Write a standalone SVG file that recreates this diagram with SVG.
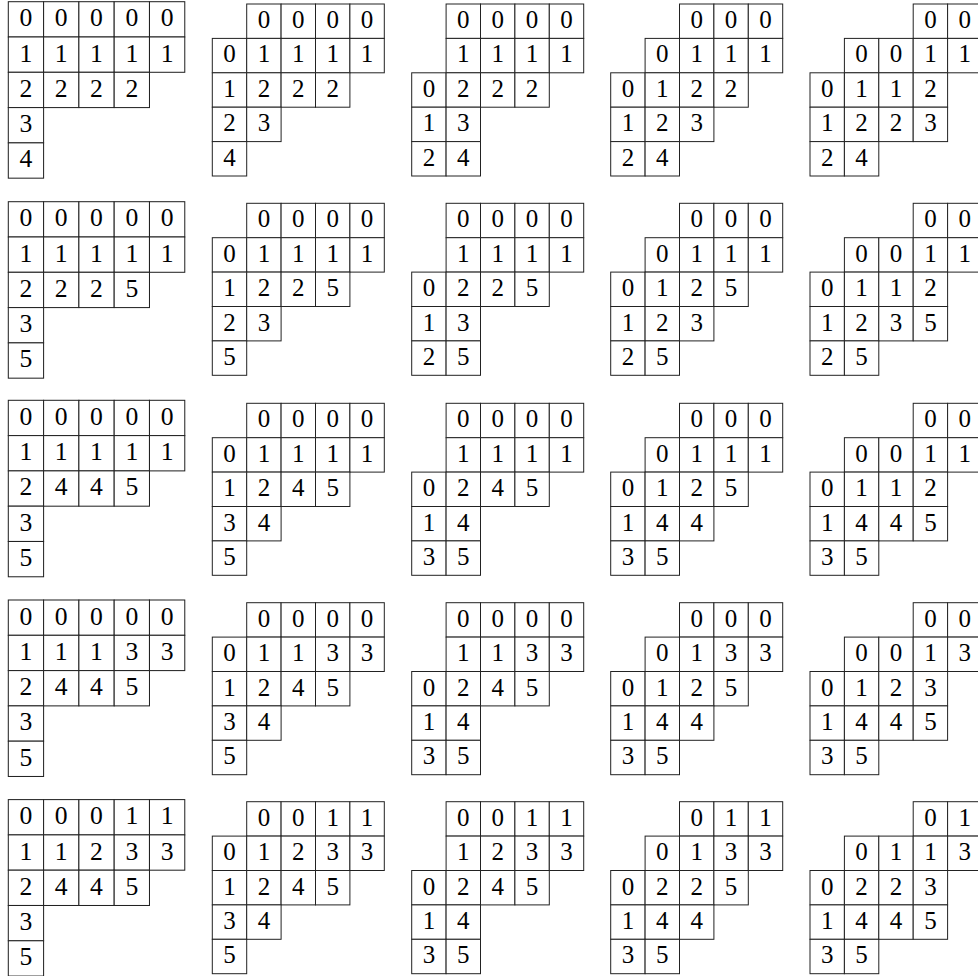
<svg xmlns="http://www.w3.org/2000/svg" xmlns:xlink="http://www.w3.org/1999/xlink" width="978" height="976" viewBox="0 0 978 976">
<style>
.cell{fill:#fff;stroke:#222;stroke-width:1}
text{font-family:"Liberation Serif","Times New Roman",serif;font-size:25px;text-anchor:middle;fill:#000}
</style>
<defs><rect id="k" class="cell" width="34.4" height="34.4"/></defs>
<rect width="978" height="976" fill="#fff"/>

<!-- Row A -->
<g id="tA1" transform="translate(8.3,1.7) scale(1.026)">
<g><use href="#k" x="0"/><text x="17.2" y="24">0</text><use href="#k" x="34.4"/><text x="51.6" y="24">0</text><use href="#k" x="68.8"/><text x="86" y="24">0</text><use href="#k" x="103.2"/><text x="120.4" y="24">0</text><use href="#k" x="137.6"/><text x="154.8" y="24">0</text></g>
<g transform="translate(0,34.4)"><use href="#k" x="0"/><text x="17.2" y="24">1</text><use href="#k" x="34.4"/><text x="51.6" y="24">1</text><use href="#k" x="68.8"/><text x="86" y="24">1</text><use href="#k" x="103.2"/><text x="120.4" y="24">1</text><use href="#k" x="137.6"/><text x="154.8" y="24">1</text></g>
<g transform="translate(0,68.8)"><use href="#k" x="0"/><text x="17.2" y="24">2</text><use href="#k" x="34.4"/><text x="51.6" y="24">2</text><use href="#k" x="68.8"/><text x="86" y="24">2</text><use href="#k" x="103.2"/><text x="120.4" y="24">2</text></g>
<g transform="translate(0,103.2)"><use href="#k" x="0"/><text x="17.2" y="24">3</text></g>
<g transform="translate(0,137.6)"><use href="#k" x="0"/><text x="17.2" y="24">4</text></g>
</g>
<g id="tA2" transform="translate(212.3,4)">
<g><use href="#k" x="34.4"/><text x="51.6" y="24">0</text><use href="#k" x="68.8"/><text x="86" y="24">0</text><use href="#k" x="103.2"/><text x="120.4" y="24">0</text><use href="#k" x="137.6"/><text x="154.8" y="24">0</text></g>
<g transform="translate(0,34.4)"><use href="#k" x="0"/><text x="17.2" y="24">0</text><use href="#k" x="34.4"/><text x="51.6" y="24">1</text><use href="#k" x="68.8"/><text x="86" y="24">1</text><use href="#k" x="103.2"/><text x="120.4" y="24">1</text><use href="#k" x="137.6"/><text x="154.8" y="24">1</text></g>
<g transform="translate(0,68.8)"><use href="#k" x="0"/><text x="17.2" y="24">1</text><use href="#k" x="34.4"/><text x="51.6" y="24">2</text><use href="#k" x="68.8"/><text x="86" y="24">2</text><use href="#k" x="103.2"/><text x="120.4" y="24">2</text></g>
<g transform="translate(0,103.2)"><use href="#k" x="0"/><text x="17.2" y="24">2</text><use href="#k" x="34.4"/><text x="51.6" y="24">3</text></g>
<g transform="translate(0,137.6)"><use href="#k" x="0"/><text x="17.2" y="24">4</text></g>
</g>
<g id="tA3" transform="translate(411.7,4)">
<g><use href="#k" x="34.4"/><text x="51.6" y="24">0</text><use href="#k" x="68.8"/><text x="86" y="24">0</text><use href="#k" x="103.2"/><text x="120.4" y="24">0</text><use href="#k" x="137.6"/><text x="154.8" y="24">0</text></g>
<g transform="translate(0,34.4)"><use href="#k" x="34.4"/><text x="51.6" y="24">1</text><use href="#k" x="68.8"/><text x="86" y="24">1</text><use href="#k" x="103.2"/><text x="120.4" y="24">1</text><use href="#k" x="137.6"/><text x="154.8" y="24">1</text></g>
<g transform="translate(0,68.8)"><use href="#k" x="0"/><text x="17.2" y="24">0</text><use href="#k" x="34.4"/><text x="51.6" y="24">2</text><use href="#k" x="68.8"/><text x="86" y="24">2</text><use href="#k" x="103.2"/><text x="120.4" y="24">2</text></g>
<g transform="translate(0,103.2)"><use href="#k" x="0"/><text x="17.2" y="24">1</text><use href="#k" x="34.4"/><text x="51.6" y="24">3</text></g>
<g transform="translate(0,137.6)"><use href="#k" x="0"/><text x="17.2" y="24">2</text><use href="#k" x="34.4"/><text x="51.6" y="24">4</text></g>
</g>
<g id="tA4" transform="translate(610.7,4)">
<g><use href="#k" x="68.8"/><text x="86" y="24">0</text><use href="#k" x="103.2"/><text x="120.4" y="24">0</text><use href="#k" x="137.6"/><text x="154.8" y="24">0</text></g>
<g transform="translate(0,34.4)"><use href="#k" x="34.4"/><text x="51.6" y="24">0</text><use href="#k" x="68.8"/><text x="86" y="24">1</text><use href="#k" x="103.2"/><text x="120.4" y="24">1</text><use href="#k" x="137.6"/><text x="154.8" y="24">1</text></g>
<g transform="translate(0,68.8)"><use href="#k" x="0"/><text x="17.2" y="24">0</text><use href="#k" x="34.4"/><text x="51.6" y="24">1</text><use href="#k" x="68.8"/><text x="86" y="24">2</text><use href="#k" x="103.2"/><text x="120.4" y="24">2</text></g>
<g transform="translate(0,103.2)"><use href="#k" x="0"/><text x="17.2" y="24">1</text><use href="#k" x="34.4"/><text x="51.6" y="24">2</text><use href="#k" x="68.8"/><text x="86" y="24">3</text></g>
<g transform="translate(0,137.6)"><use href="#k" x="0"/><text x="17.2" y="24">2</text><use href="#k" x="34.4"/><text x="51.6" y="24">4</text></g>
</g>
<g id="tA5" transform="translate(810,4)">
<g><use href="#k" x="103.2"/><text x="120.4" y="24">0</text><use href="#k" x="137.6"/><text x="154.8" y="24">0</text></g>
<g transform="translate(0,34.4)"><use href="#k" x="34.4"/><text x="51.6" y="24">0</text><use href="#k" x="68.8"/><text x="86" y="24">0</text><use href="#k" x="103.2"/><text x="120.4" y="24">1</text><use href="#k" x="137.6"/><text x="154.8" y="24">1</text></g>
<g transform="translate(0,68.8)"><use href="#k" x="0"/><text x="17.2" y="24">0</text><use href="#k" x="34.4"/><text x="51.6" y="24">1</text><use href="#k" x="68.8"/><text x="86" y="24">1</text><use href="#k" x="103.2"/><text x="120.4" y="24">2</text></g>
<g transform="translate(0,103.2)"><use href="#k" x="0"/><text x="17.2" y="24">1</text><use href="#k" x="34.4"/><text x="51.6" y="24">2</text><use href="#k" x="68.8"/><text x="86" y="24">2</text><use href="#k" x="103.2"/><text x="120.4" y="24">3</text></g>
<g transform="translate(0,137.6)"><use href="#k" x="0"/><text x="17.2" y="24">2</text><use href="#k" x="34.4"/><text x="51.6" y="24">4</text></g>
</g>

<!-- Row B -->
<g id="tB1" transform="translate(8.3,201.7) scale(1.026)">
<g><use href="#k" x="0"/><text x="17.2" y="24">0</text><use href="#k" x="34.4"/><text x="51.6" y="24">0</text><use href="#k" x="68.8"/><text x="86" y="24">0</text><use href="#k" x="103.2"/><text x="120.4" y="24">0</text><use href="#k" x="137.6"/><text x="154.8" y="24">0</text></g>
<g transform="translate(0,34.4)"><use href="#k" x="0"/><text x="17.2" y="24">1</text><use href="#k" x="34.4"/><text x="51.6" y="24">1</text><use href="#k" x="68.8"/><text x="86" y="24">1</text><use href="#k" x="103.2"/><text x="120.4" y="24">1</text><use href="#k" x="137.6"/><text x="154.8" y="24">1</text></g>
<g transform="translate(0,68.8)"><use href="#k" x="0"/><text x="17.2" y="24">2</text><use href="#k" x="34.4"/><text x="51.6" y="24">2</text><use href="#k" x="68.8"/><text x="86" y="24">2</text><use href="#k" x="103.2"/><text x="120.4" y="24">5</text></g>
<g transform="translate(0,103.2)"><use href="#k" x="0"/><text x="17.2" y="24">3</text></g>
<g transform="translate(0,137.6)"><use href="#k" x="0"/><text x="17.2" y="24">5</text></g>
</g>
<g id="tB2" transform="translate(212.3,203.3)">
<g><use href="#k" x="34.4"/><text x="51.6" y="24">0</text><use href="#k" x="68.8"/><text x="86" y="24">0</text><use href="#k" x="103.2"/><text x="120.4" y="24">0</text><use href="#k" x="137.6"/><text x="154.8" y="24">0</text></g>
<g transform="translate(0,34.4)"><use href="#k" x="0"/><text x="17.2" y="24">0</text><use href="#k" x="34.4"/><text x="51.6" y="24">1</text><use href="#k" x="68.8"/><text x="86" y="24">1</text><use href="#k" x="103.2"/><text x="120.4" y="24">1</text><use href="#k" x="137.6"/><text x="154.8" y="24">1</text></g>
<g transform="translate(0,68.8)"><use href="#k" x="0"/><text x="17.2" y="24">1</text><use href="#k" x="34.4"/><text x="51.6" y="24">2</text><use href="#k" x="68.8"/><text x="86" y="24">2</text><use href="#k" x="103.2"/><text x="120.4" y="24">5</text></g>
<g transform="translate(0,103.2)"><use href="#k" x="0"/><text x="17.2" y="24">2</text><use href="#k" x="34.4"/><text x="51.6" y="24">3</text></g>
<g transform="translate(0,137.6)"><use href="#k" x="0"/><text x="17.2" y="24">5</text></g>
</g>
<g id="tB3" transform="translate(411.7,203.3)">
<g><use href="#k" x="34.4"/><text x="51.6" y="24">0</text><use href="#k" x="68.8"/><text x="86" y="24">0</text><use href="#k" x="103.2"/><text x="120.4" y="24">0</text><use href="#k" x="137.6"/><text x="154.8" y="24">0</text></g>
<g transform="translate(0,34.4)"><use href="#k" x="34.4"/><text x="51.6" y="24">1</text><use href="#k" x="68.8"/><text x="86" y="24">1</text><use href="#k" x="103.2"/><text x="120.4" y="24">1</text><use href="#k" x="137.6"/><text x="154.8" y="24">1</text></g>
<g transform="translate(0,68.8)"><use href="#k" x="0"/><text x="17.2" y="24">0</text><use href="#k" x="34.4"/><text x="51.6" y="24">2</text><use href="#k" x="68.8"/><text x="86" y="24">2</text><use href="#k" x="103.2"/><text x="120.4" y="24">5</text></g>
<g transform="translate(0,103.2)"><use href="#k" x="0"/><text x="17.2" y="24">1</text><use href="#k" x="34.4"/><text x="51.6" y="24">3</text></g>
<g transform="translate(0,137.6)"><use href="#k" x="0"/><text x="17.2" y="24">2</text><use href="#k" x="34.4"/><text x="51.6" y="24">5</text></g>
</g>
<g id="tB4" transform="translate(610.7,203.3)">
<g><use href="#k" x="68.8"/><text x="86" y="24">0</text><use href="#k" x="103.2"/><text x="120.4" y="24">0</text><use href="#k" x="137.6"/><text x="154.8" y="24">0</text></g>
<g transform="translate(0,34.4)"><use href="#k" x="34.4"/><text x="51.6" y="24">0</text><use href="#k" x="68.8"/><text x="86" y="24">1</text><use href="#k" x="103.2"/><text x="120.4" y="24">1</text><use href="#k" x="137.6"/><text x="154.8" y="24">1</text></g>
<g transform="translate(0,68.8)"><use href="#k" x="0"/><text x="17.2" y="24">0</text><use href="#k" x="34.4"/><text x="51.6" y="24">1</text><use href="#k" x="68.8"/><text x="86" y="24">2</text><use href="#k" x="103.2"/><text x="120.4" y="24">5</text></g>
<g transform="translate(0,103.2)"><use href="#k" x="0"/><text x="17.2" y="24">1</text><use href="#k" x="34.4"/><text x="51.6" y="24">2</text><use href="#k" x="68.8"/><text x="86" y="24">3</text></g>
<g transform="translate(0,137.6)"><use href="#k" x="0"/><text x="17.2" y="24">2</text><use href="#k" x="34.4"/><text x="51.6" y="24">5</text></g>
</g>
<g id="tB5" transform="translate(810,203.3)">
<g><use href="#k" x="103.2"/><text x="120.4" y="24">0</text><use href="#k" x="137.6"/><text x="154.8" y="24">0</text></g>
<g transform="translate(0,34.4)"><use href="#k" x="34.4"/><text x="51.6" y="24">0</text><use href="#k" x="68.8"/><text x="86" y="24">0</text><use href="#k" x="103.2"/><text x="120.4" y="24">1</text><use href="#k" x="137.6"/><text x="154.8" y="24">1</text></g>
<g transform="translate(0,68.8)"><use href="#k" x="0"/><text x="17.2" y="24">0</text><use href="#k" x="34.4"/><text x="51.6" y="24">1</text><use href="#k" x="68.8"/><text x="86" y="24">1</text><use href="#k" x="103.2"/><text x="120.4" y="24">2</text></g>
<g transform="translate(0,103.2)"><use href="#k" x="0"/><text x="17.2" y="24">1</text><use href="#k" x="34.4"/><text x="51.6" y="24">2</text><use href="#k" x="68.8"/><text x="86" y="24">3</text><use href="#k" x="103.2"/><text x="120.4" y="24">5</text></g>
<g transform="translate(0,137.6)"><use href="#k" x="0"/><text x="17.2" y="24">2</text><use href="#k" x="34.4"/><text x="51.6" y="24">5</text></g>
</g>

<!-- Row C -->
<g id="tC1" transform="translate(8.3,400.3) scale(1.026)">
<g><use href="#k" x="0"/><text x="17.2" y="24">0</text><use href="#k" x="34.4"/><text x="51.6" y="24">0</text><use href="#k" x="68.8"/><text x="86" y="24">0</text><use href="#k" x="103.2"/><text x="120.4" y="24">0</text><use href="#k" x="137.6"/><text x="154.8" y="24">0</text></g>
<g transform="translate(0,34.4)"><use href="#k" x="0"/><text x="17.2" y="24">1</text><use href="#k" x="34.4"/><text x="51.6" y="24">1</text><use href="#k" x="68.8"/><text x="86" y="24">1</text><use href="#k" x="103.2"/><text x="120.4" y="24">1</text><use href="#k" x="137.6"/><text x="154.8" y="24">1</text></g>
<g transform="translate(0,68.8)"><use href="#k" x="0"/><text x="17.2" y="24">2</text><use href="#k" x="34.4"/><text x="51.6" y="24">4</text><use href="#k" x="68.8"/><text x="86" y="24">4</text><use href="#k" x="103.2"/><text x="120.4" y="24">5</text></g>
<g transform="translate(0,103.2)"><use href="#k" x="0"/><text x="17.2" y="24">3</text></g>
<g transform="translate(0,137.6)"><use href="#k" x="0"/><text x="17.2" y="24">5</text></g>
</g>
<g id="tC2" transform="translate(212.3,403.3)">
<g><use href="#k" x="34.4"/><text x="51.6" y="24">0</text><use href="#k" x="68.8"/><text x="86" y="24">0</text><use href="#k" x="103.2"/><text x="120.4" y="24">0</text><use href="#k" x="137.6"/><text x="154.8" y="24">0</text></g>
<g transform="translate(0,34.4)"><use href="#k" x="0"/><text x="17.2" y="24">0</text><use href="#k" x="34.4"/><text x="51.6" y="24">1</text><use href="#k" x="68.8"/><text x="86" y="24">1</text><use href="#k" x="103.2"/><text x="120.4" y="24">1</text><use href="#k" x="137.6"/><text x="154.8" y="24">1</text></g>
<g transform="translate(0,68.8)"><use href="#k" x="0"/><text x="17.2" y="24">1</text><use href="#k" x="34.4"/><text x="51.6" y="24">2</text><use href="#k" x="68.8"/><text x="86" y="24">4</text><use href="#k" x="103.2"/><text x="120.4" y="24">5</text></g>
<g transform="translate(0,103.2)"><use href="#k" x="0"/><text x="17.2" y="24">3</text><use href="#k" x="34.4"/><text x="51.6" y="24">4</text></g>
<g transform="translate(0,137.6)"><use href="#k" x="0"/><text x="17.2" y="24">5</text></g>
</g>
<g id="tC3" transform="translate(411.7,403.3)">
<g><use href="#k" x="34.4"/><text x="51.6" y="24">0</text><use href="#k" x="68.8"/><text x="86" y="24">0</text><use href="#k" x="103.2"/><text x="120.4" y="24">0</text><use href="#k" x="137.6"/><text x="154.8" y="24">0</text></g>
<g transform="translate(0,34.4)"><use href="#k" x="34.4"/><text x="51.6" y="24">1</text><use href="#k" x="68.8"/><text x="86" y="24">1</text><use href="#k" x="103.2"/><text x="120.4" y="24">1</text><use href="#k" x="137.6"/><text x="154.8" y="24">1</text></g>
<g transform="translate(0,68.8)"><use href="#k" x="0"/><text x="17.2" y="24">0</text><use href="#k" x="34.4"/><text x="51.6" y="24">2</text><use href="#k" x="68.8"/><text x="86" y="24">4</text><use href="#k" x="103.2"/><text x="120.4" y="24">5</text></g>
<g transform="translate(0,103.2)"><use href="#k" x="0"/><text x="17.2" y="24">1</text><use href="#k" x="34.4"/><text x="51.6" y="24">4</text></g>
<g transform="translate(0,137.6)"><use href="#k" x="0"/><text x="17.2" y="24">3</text><use href="#k" x="34.4"/><text x="51.6" y="24">5</text></g>
</g>
<g id="tC4" transform="translate(610.7,403.3)">
<g><use href="#k" x="68.8"/><text x="86" y="24">0</text><use href="#k" x="103.2"/><text x="120.4" y="24">0</text><use href="#k" x="137.6"/><text x="154.8" y="24">0</text></g>
<g transform="translate(0,34.4)"><use href="#k" x="34.4"/><text x="51.6" y="24">0</text><use href="#k" x="68.8"/><text x="86" y="24">1</text><use href="#k" x="103.2"/><text x="120.4" y="24">1</text><use href="#k" x="137.6"/><text x="154.8" y="24">1</text></g>
<g transform="translate(0,68.8)"><use href="#k" x="0"/><text x="17.2" y="24">0</text><use href="#k" x="34.4"/><text x="51.6" y="24">1</text><use href="#k" x="68.8"/><text x="86" y="24">2</text><use href="#k" x="103.2"/><text x="120.4" y="24">5</text></g>
<g transform="translate(0,103.2)"><use href="#k" x="0"/><text x="17.2" y="24">1</text><use href="#k" x="34.4"/><text x="51.6" y="24">4</text><use href="#k" x="68.8"/><text x="86" y="24">4</text></g>
<g transform="translate(0,137.6)"><use href="#k" x="0"/><text x="17.2" y="24">3</text><use href="#k" x="34.4"/><text x="51.6" y="24">5</text></g>
</g>
<g id="tC5" transform="translate(810,403.3)">
<g><use href="#k" x="103.2"/><text x="120.4" y="24">0</text><use href="#k" x="137.6"/><text x="154.8" y="24">0</text></g>
<g transform="translate(0,34.4)"><use href="#k" x="34.4"/><text x="51.6" y="24">0</text><use href="#k" x="68.8"/><text x="86" y="24">0</text><use href="#k" x="103.2"/><text x="120.4" y="24">1</text><use href="#k" x="137.6"/><text x="154.8" y="24">1</text></g>
<g transform="translate(0,68.8)"><use href="#k" x="0"/><text x="17.2" y="24">0</text><use href="#k" x="34.4"/><text x="51.6" y="24">1</text><use href="#k" x="68.8"/><text x="86" y="24">1</text><use href="#k" x="103.2"/><text x="120.4" y="24">2</text></g>
<g transform="translate(0,103.2)"><use href="#k" x="0"/><text x="17.2" y="24">1</text><use href="#k" x="34.4"/><text x="51.6" y="24">4</text><use href="#k" x="68.8"/><text x="86" y="24">4</text><use href="#k" x="103.2"/><text x="120.4" y="24">5</text></g>
<g transform="translate(0,137.6)"><use href="#k" x="0"/><text x="17.2" y="24">3</text><use href="#k" x="34.4"/><text x="51.6" y="24">5</text></g>
</g>

<!-- Row D -->
<g id="tD1" transform="translate(8.3,600) scale(1.026)">
<g><use href="#k" x="0"/><text x="17.2" y="24">0</text><use href="#k" x="34.4"/><text x="51.6" y="24">0</text><use href="#k" x="68.8"/><text x="86" y="24">0</text><use href="#k" x="103.2"/><text x="120.4" y="24">0</text><use href="#k" x="137.6"/><text x="154.8" y="24">0</text></g>
<g transform="translate(0,34.4)"><use href="#k" x="0"/><text x="17.2" y="24">1</text><use href="#k" x="34.4"/><text x="51.6" y="24">1</text><use href="#k" x="68.8"/><text x="86" y="24">1</text><use href="#k" x="103.2"/><text x="120.4" y="24">3</text><use href="#k" x="137.6"/><text x="154.8" y="24">3</text></g>
<g transform="translate(0,68.8)"><use href="#k" x="0"/><text x="17.2" y="24">2</text><use href="#k" x="34.4"/><text x="51.6" y="24">4</text><use href="#k" x="68.8"/><text x="86" y="24">4</text><use href="#k" x="103.2"/><text x="120.4" y="24">5</text></g>
<g transform="translate(0,103.2)"><use href="#k" x="0"/><text x="17.2" y="24">3</text></g>
<g transform="translate(0,137.6)"><use href="#k" x="0"/><text x="17.2" y="24">5</text></g>
</g>
<g id="tD2" transform="translate(212.3,602.7)">
<g><use href="#k" x="34.4"/><text x="51.6" y="24">0</text><use href="#k" x="68.8"/><text x="86" y="24">0</text><use href="#k" x="103.2"/><text x="120.4" y="24">0</text><use href="#k" x="137.6"/><text x="154.8" y="24">0</text></g>
<g transform="translate(0,34.4)"><use href="#k" x="0"/><text x="17.2" y="24">0</text><use href="#k" x="34.4"/><text x="51.6" y="24">1</text><use href="#k" x="68.8"/><text x="86" y="24">1</text><use href="#k" x="103.2"/><text x="120.4" y="24">3</text><use href="#k" x="137.6"/><text x="154.8" y="24">3</text></g>
<g transform="translate(0,68.8)"><use href="#k" x="0"/><text x="17.2" y="24">1</text><use href="#k" x="34.4"/><text x="51.6" y="24">2</text><use href="#k" x="68.8"/><text x="86" y="24">4</text><use href="#k" x="103.2"/><text x="120.4" y="24">5</text></g>
<g transform="translate(0,103.2)"><use href="#k" x="0"/><text x="17.2" y="24">3</text><use href="#k" x="34.4"/><text x="51.6" y="24">4</text></g>
<g transform="translate(0,137.6)"><use href="#k" x="0"/><text x="17.2" y="24">5</text></g>
</g>
<g id="tD3" transform="translate(411.7,602.7)">
<g><use href="#k" x="34.4"/><text x="51.6" y="24">0</text><use href="#k" x="68.8"/><text x="86" y="24">0</text><use href="#k" x="103.2"/><text x="120.4" y="24">0</text><use href="#k" x="137.6"/><text x="154.8" y="24">0</text></g>
<g transform="translate(0,34.4)"><use href="#k" x="34.4"/><text x="51.6" y="24">1</text><use href="#k" x="68.8"/><text x="86" y="24">1</text><use href="#k" x="103.2"/><text x="120.4" y="24">3</text><use href="#k" x="137.6"/><text x="154.8" y="24">3</text></g>
<g transform="translate(0,68.8)"><use href="#k" x="0"/><text x="17.2" y="24">0</text><use href="#k" x="34.4"/><text x="51.6" y="24">2</text><use href="#k" x="68.8"/><text x="86" y="24">4</text><use href="#k" x="103.2"/><text x="120.4" y="24">5</text></g>
<g transform="translate(0,103.2)"><use href="#k" x="0"/><text x="17.2" y="24">1</text><use href="#k" x="34.4"/><text x="51.6" y="24">4</text></g>
<g transform="translate(0,137.6)"><use href="#k" x="0"/><text x="17.2" y="24">3</text><use href="#k" x="34.4"/><text x="51.6" y="24">5</text></g>
</g>
<g id="tD4" transform="translate(610.7,602.7)">
<g><use href="#k" x="68.8"/><text x="86" y="24">0</text><use href="#k" x="103.2"/><text x="120.4" y="24">0</text><use href="#k" x="137.6"/><text x="154.8" y="24">0</text></g>
<g transform="translate(0,34.4)"><use href="#k" x="34.4"/><text x="51.6" y="24">0</text><use href="#k" x="68.8"/><text x="86" y="24">1</text><use href="#k" x="103.2"/><text x="120.4" y="24">3</text><use href="#k" x="137.6"/><text x="154.8" y="24">3</text></g>
<g transform="translate(0,68.8)"><use href="#k" x="0"/><text x="17.2" y="24">0</text><use href="#k" x="34.4"/><text x="51.6" y="24">1</text><use href="#k" x="68.8"/><text x="86" y="24">2</text><use href="#k" x="103.2"/><text x="120.4" y="24">5</text></g>
<g transform="translate(0,103.2)"><use href="#k" x="0"/><text x="17.2" y="24">1</text><use href="#k" x="34.4"/><text x="51.6" y="24">4</text><use href="#k" x="68.8"/><text x="86" y="24">4</text></g>
<g transform="translate(0,137.6)"><use href="#k" x="0"/><text x="17.2" y="24">3</text><use href="#k" x="34.4"/><text x="51.6" y="24">5</text></g>
</g>
<g id="tD5" transform="translate(810,602.7)">
<g><use href="#k" x="103.2"/><text x="120.4" y="24">0</text><use href="#k" x="137.6"/><text x="154.8" y="24">0</text></g>
<g transform="translate(0,34.4)"><use href="#k" x="34.4"/><text x="51.6" y="24">0</text><use href="#k" x="68.8"/><text x="86" y="24">0</text><use href="#k" x="103.2"/><text x="120.4" y="24">1</text><use href="#k" x="137.6"/><text x="154.8" y="24">3</text></g>
<g transform="translate(0,68.8)"><use href="#k" x="0"/><text x="17.2" y="24">0</text><use href="#k" x="34.4"/><text x="51.6" y="24">1</text><use href="#k" x="68.8"/><text x="86" y="24">2</text><use href="#k" x="103.2"/><text x="120.4" y="24">3</text></g>
<g transform="translate(0,103.2)"><use href="#k" x="0"/><text x="17.2" y="24">1</text><use href="#k" x="34.4"/><text x="51.6" y="24">4</text><use href="#k" x="68.8"/><text x="86" y="24">4</text><use href="#k" x="103.2"/><text x="120.4" y="24">5</text></g>
<g transform="translate(0,137.6)"><use href="#k" x="0"/><text x="17.2" y="24">3</text><use href="#k" x="34.4"/><text x="51.6" y="24">5</text></g>
</g>

<!-- Row E -->
<g id="tE1" transform="translate(8.3,799.6) scale(1.026)">
<g><use href="#k" x="0"/><text x="17.2" y="24">0</text><use href="#k" x="34.4"/><text x="51.6" y="24">0</text><use href="#k" x="68.8"/><text x="86" y="24">0</text><use href="#k" x="103.2"/><text x="120.4" y="24">1</text><use href="#k" x="137.6"/><text x="154.8" y="24">1</text></g>
<g transform="translate(0,34.4)"><use href="#k" x="0"/><text x="17.2" y="24">1</text><use href="#k" x="34.4"/><text x="51.6" y="24">1</text><use href="#k" x="68.8"/><text x="86" y="24">2</text><use href="#k" x="103.2"/><text x="120.4" y="24">3</text><use href="#k" x="137.6"/><text x="154.8" y="24">3</text></g>
<g transform="translate(0,68.8)"><use href="#k" x="0"/><text x="17.2" y="24">2</text><use href="#k" x="34.4"/><text x="51.6" y="24">4</text><use href="#k" x="68.8"/><text x="86" y="24">4</text><use href="#k" x="103.2"/><text x="120.4" y="24">5</text></g>
<g transform="translate(0,103.2)"><use href="#k" x="0"/><text x="17.2" y="24">3</text></g>
<g transform="translate(0,137.6)"><use href="#k" x="0"/><text x="17.2" y="24">5</text></g>
</g>
<g id="tE2" transform="translate(212.3,801.7)">
<g><use href="#k" x="34.4"/><text x="51.6" y="24">0</text><use href="#k" x="68.8"/><text x="86" y="24">0</text><use href="#k" x="103.2"/><text x="120.4" y="24">1</text><use href="#k" x="137.6"/><text x="154.8" y="24">1</text></g>
<g transform="translate(0,34.4)"><use href="#k" x="0"/><text x="17.2" y="24">0</text><use href="#k" x="34.4"/><text x="51.6" y="24">1</text><use href="#k" x="68.8"/><text x="86" y="24">2</text><use href="#k" x="103.2"/><text x="120.4" y="24">3</text><use href="#k" x="137.6"/><text x="154.8" y="24">3</text></g>
<g transform="translate(0,68.8)"><use href="#k" x="0"/><text x="17.2" y="24">1</text><use href="#k" x="34.4"/><text x="51.6" y="24">2</text><use href="#k" x="68.8"/><text x="86" y="24">4</text><use href="#k" x="103.2"/><text x="120.4" y="24">5</text></g>
<g transform="translate(0,103.2)"><use href="#k" x="0"/><text x="17.2" y="24">3</text><use href="#k" x="34.4"/><text x="51.6" y="24">4</text></g>
<g transform="translate(0,137.6)"><use href="#k" x="0"/><text x="17.2" y="24">5</text></g>
</g>
<g id="tE3" transform="translate(411.7,801.7)">
<g><use href="#k" x="34.4"/><text x="51.6" y="24">0</text><use href="#k" x="68.8"/><text x="86" y="24">0</text><use href="#k" x="103.2"/><text x="120.4" y="24">1</text><use href="#k" x="137.6"/><text x="154.8" y="24">1</text></g>
<g transform="translate(0,34.4)"><use href="#k" x="34.4"/><text x="51.6" y="24">1</text><use href="#k" x="68.8"/><text x="86" y="24">2</text><use href="#k" x="103.2"/><text x="120.4" y="24">3</text><use href="#k" x="137.6"/><text x="154.8" y="24">3</text></g>
<g transform="translate(0,68.8)"><use href="#k" x="0"/><text x="17.2" y="24">0</text><use href="#k" x="34.4"/><text x="51.6" y="24">2</text><use href="#k" x="68.8"/><text x="86" y="24">4</text><use href="#k" x="103.2"/><text x="120.4" y="24">5</text></g>
<g transform="translate(0,103.2)"><use href="#k" x="0"/><text x="17.2" y="24">1</text><use href="#k" x="34.4"/><text x="51.6" y="24">4</text></g>
<g transform="translate(0,137.6)"><use href="#k" x="0"/><text x="17.2" y="24">3</text><use href="#k" x="34.4"/><text x="51.6" y="24">5</text></g>
</g>
<g id="tE4" transform="translate(610.7,801.7)">
<g><use href="#k" x="68.8"/><text x="86" y="24">0</text><use href="#k" x="103.2"/><text x="120.4" y="24">1</text><use href="#k" x="137.6"/><text x="154.8" y="24">1</text></g>
<g transform="translate(0,34.4)"><use href="#k" x="34.4"/><text x="51.6" y="24">0</text><use href="#k" x="68.8"/><text x="86" y="24">1</text><use href="#k" x="103.2"/><text x="120.4" y="24">3</text><use href="#k" x="137.6"/><text x="154.8" y="24">3</text></g>
<g transform="translate(0,68.8)"><use href="#k" x="0"/><text x="17.2" y="24">0</text><use href="#k" x="34.4"/><text x="51.6" y="24">2</text><use href="#k" x="68.8"/><text x="86" y="24">2</text><use href="#k" x="103.2"/><text x="120.4" y="24">5</text></g>
<g transform="translate(0,103.2)"><use href="#k" x="0"/><text x="17.2" y="24">1</text><use href="#k" x="34.4"/><text x="51.6" y="24">4</text><use href="#k" x="68.8"/><text x="86" y="24">4</text></g>
<g transform="translate(0,137.6)"><use href="#k" x="0"/><text x="17.2" y="24">3</text><use href="#k" x="34.4"/><text x="51.6" y="24">5</text></g>
</g>
<g id="tE5" transform="translate(810,801.7)">
<g><use href="#k" x="103.2"/><text x="120.4" y="24">0</text><use href="#k" x="137.6"/><text x="154.8" y="24">1</text></g>
<g transform="translate(0,34.4)"><use href="#k" x="34.4"/><text x="51.6" y="24">0</text><use href="#k" x="68.8"/><text x="86" y="24">1</text><use href="#k" x="103.2"/><text x="120.4" y="24">1</text><use href="#k" x="137.6"/><text x="154.8" y="24">3</text></g>
<g transform="translate(0,68.8)"><use href="#k" x="0"/><text x="17.2" y="24">0</text><use href="#k" x="34.4"/><text x="51.6" y="24">2</text><use href="#k" x="68.8"/><text x="86" y="24">2</text><use href="#k" x="103.2"/><text x="120.4" y="24">3</text></g>
<g transform="translate(0,103.2)"><use href="#k" x="0"/><text x="17.2" y="24">1</text><use href="#k" x="34.4"/><text x="51.6" y="24">4</text><use href="#k" x="68.8"/><text x="86" y="24">4</text><use href="#k" x="103.2"/><text x="120.4" y="24">5</text></g>
<g transform="translate(0,137.6)"><use href="#k" x="0"/><text x="17.2" y="24">3</text><use href="#k" x="34.4"/><text x="51.6" y="24">5</text></g>
</g>
</svg>
